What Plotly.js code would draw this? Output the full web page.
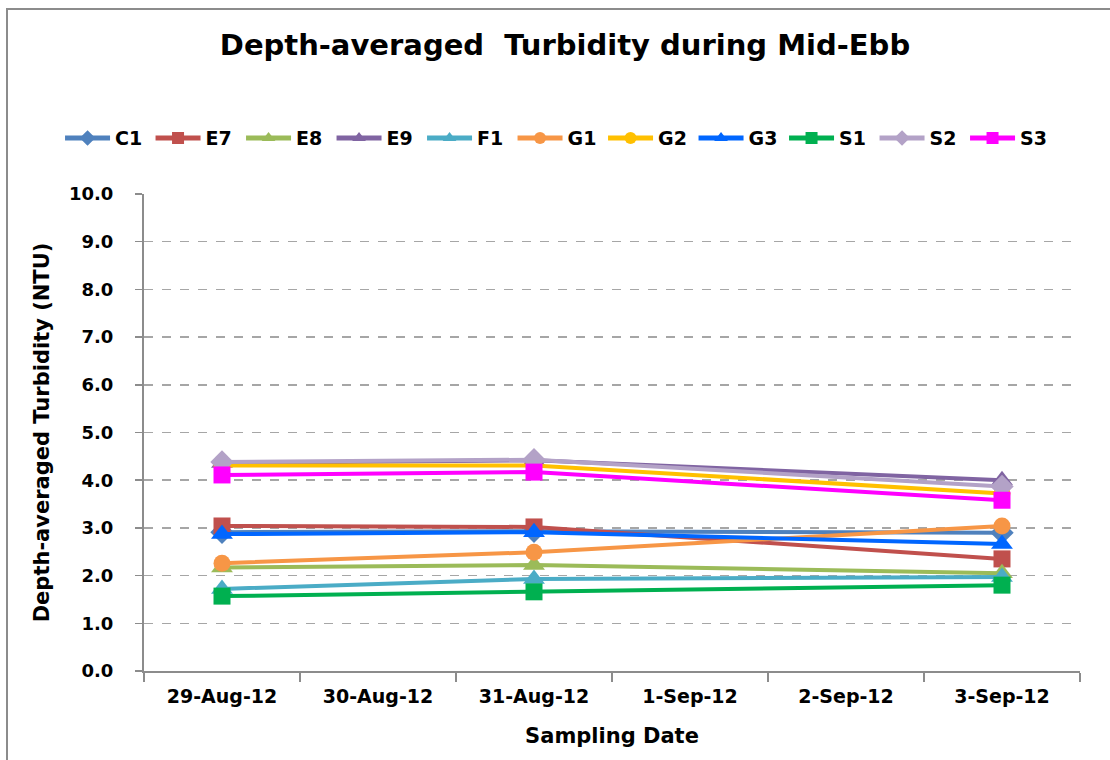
<!DOCTYPE html>
<html>
<head>
<meta charset="utf-8">
<script src="https://cdn.plot.ly/plotly-3.0.1.min.js"></script>
<style>
  html, body { margin: 0; padding: 0; background: #fff; overflow: hidden; }
  #chart { width: 1110px; height: 760px; }
  #frame { position: absolute; left: 6px; top: 8px; width: 1200px; height: 900px;
           border: 2px solid #8c8c8c; pointer-events: none; box-sizing: border-box; }
</style>
</head>
<body>
<div id="chart"></div>
<div id="frame"></div>
<script>
const dates = ['29-Aug-12', '30-Aug-12', '31-Aug-12', '1-Sep-12', '2-Sep-12', '3-Sep-12'];

const C1 = [2.91, null, 2.93, null, null, 2.90];
const E7 = [3.04, null, 3.02, null, null, 2.35];
const E8 = [2.17, null, 2.22, null, null, 2.05];
const E9 = [4.36, null, 4.42, null, null, 4.00];
const F1 = [1.72, null, 1.93, null, null, 1.97];
const G1 = [2.26, null, 2.49, null, null, 3.04];
const G2 = [4.31, null, 4.31, null, null, 3.72];
const G3 = [2.87, null, 2.91, null, null, 2.66];
const S1 = [1.57, null, 1.66, null, null, 1.80];
const S2 = [4.38, null, 4.43, null, null, 3.87];
const S3 = [4.11, null, 4.17, null, null, 3.58];

const seriesNames = ['C1', 'E7', 'E8', 'E9', 'F1', 'G1', 'G2', 'G3', 'S1', 'S2', 'S3'];
const seriesValues = [C1, E7, E8, E9, F1, G1, G2, G3, S1, S2, S3];
const colors = ['#4F81BD', '#C0504D', '#9BBB59', '#8064A2', '#4BACC6', '#F79646',
                '#FFC000', '#0066FF', '#00B050', '#B3A2C7', '#FF00FF'];
const symbols = ['diamond', 'square', 'triangle-up', 'triangle-up', 'triangle-up', 'circle',
                 'circle', 'triangle-up', 'square', 'diamond', 'square'];
const sizes = [18, 17, 19, 19, 19, 17, 17, 19, 17, 18, 17];

const font = 'DejaVu Sans, Verdana, sans-serif';

const traces = seriesNames.map((n, i) => ({
  type: 'scatter',
  mode: 'lines+markers',
  name: '<b>' + n + '</b>',
  x: dates,
  y: seriesValues[i],
  connectgaps: true,
  line: { color: colors[i], width: 4 },
  marker: { color: colors[i], symbol: symbols[i], size: sizes[i] }
}));

const yTicks = [0, 1, 2, 3, 4, 5, 6, 7, 8, 9, 10];

const layout = {
  width: 1110, height: 760,
  margin: { l: 144, r: 30, t: 194, b: 89 },
  paper_bgcolor: '#ffffff',
  plot_bgcolor: '#ffffff',
  font: { family: font, color: '#000', size: 18 },
  title: {
    text: '<b>Depth-averaged  Turbidity during Mid-Ebb</b>',
    font: { family: font, size: 29, color: '#000' },
    x: 0.509, xref: 'container', xanchor: 'center',
    y: 0.941, yref: 'container', yanchor: 'middle'
  },
  showlegend: true,
  legend: {
    orientation: 'h',
    x: -0.0897, xanchor: 'left',
    y: 1.117, yanchor: 'middle',
    font: { family: font, size: 19, color: '#000' },
    itemwidth: 45,
    itemsizing: 'constant',
    entrywidth: 30.5,
    tracegroupgap: 0,
    bgcolor: 'rgba(0,0,0,0)'
  },
  xaxis: {
    type: 'category',
    categoryorder: 'array',
    categoryarray: dates,
    range: [-0.5, 5.5],
    tickson: 'boundaries',
    ticks: 'outside',
    ticklen: 9,
    tickwidth: 1.5,
    tickcolor: '#8c8c8c',
    showline: true,
    linecolor: '#8c8c8c',
    linewidth: 2,
    showgrid: false,
    tickvals: dates,
    ticktext: dates.map(d => '<b>' + d + '</b>'),
    ticklabelstandoff: 7,
    tickfont: { family: font, size: 19, color: '#000' },
    title: {
      text: '<b>Sampling Date</b>',
      font: { family: font, size: 21, color: '#000' },
      standoff: 23
    },
    fixedrange: true
  },
  yaxis: {
    range: [0, 10],
    ticks: 'outside',
    ticklen: 7,
    tickwidth: 1.5,
    tickcolor: '#8c8c8c',
    showline: true,
    linecolor: '#8c8c8c',
    linewidth: 2,
    zeroline: false,
    showgrid: true,
    gridcolor: '#a6a6a6',
    gridwidth: 1.5,
    griddash: 'dash',
    tickvals: yTicks,
    ticktext: yTicks.map(v => '<b>' + v.toFixed(1) + '</b>'),
    ticklabelstandoff: 18,
    tickfont: { family: font, size: 18, color: '#000' },
    title: {
      text: '<b>Depth-averaged Turbidity (NTU)</b>',
      font: { family: font, size: 21, color: '#000' },
      standoff: 14
    },
    fixedrange: true
  }
};

Plotly.newPlot('chart', traces, layout, { displayModeBar: false, staticPlot: true });
</script>
</body>
</html>
